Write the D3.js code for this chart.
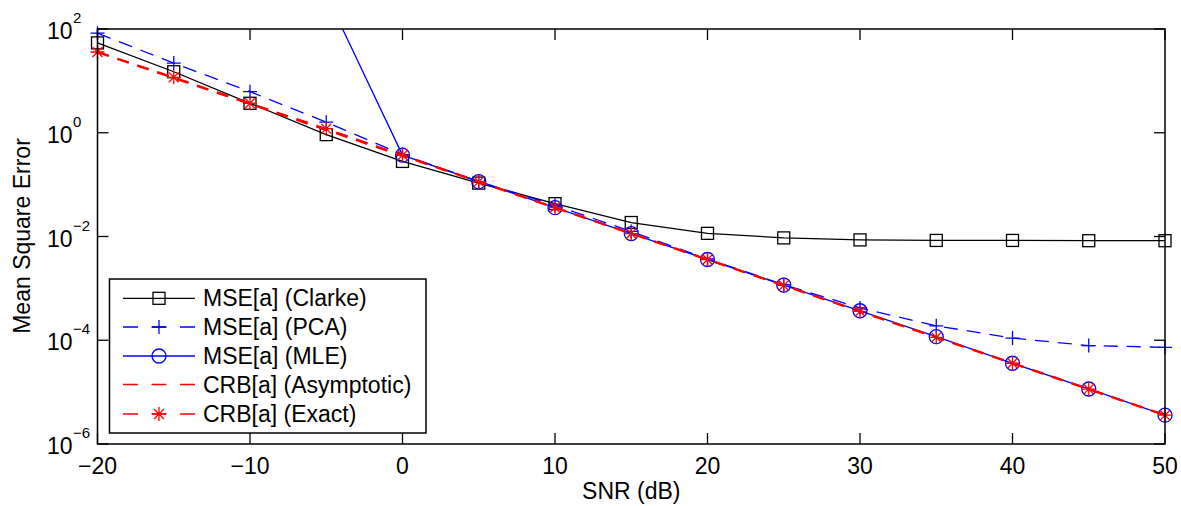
<!DOCTYPE html>
<html><head><meta charset="utf-8">
<script src="https://cdn.jsdelivr.net/npm/d3@7"></script>
<style>body{margin:0;background:#fff}svg{display:block}text{font-family:"Liberation Sans",Arial,Helvetica,sans-serif;fill:#000}</style>
</head><body><svg id="c" width="1181" height="506"></svg>
<script>
const snr = [-20,-15,-10,-5,0,5,10,15,20,25,30,35,40,45,50];
const mseClarke = [54,15,3.7,0.92,0.28,0.107,0.043,0.0186,0.0115,0.0094,0.0086,0.0084,0.0084,0.0083,0.0083];
const msePCA = [83,22,6.2,1.6,0.38,0.115,0.04,0.0125,0.0037,0.00118,0.00042,0.00019,0.00011,0.000079,0.000073];
const mseMLE = [5000,3000,1500,460,0.37,0.114,0.036,0.0114,0.0036,0.00116,0.00037,0.000117,0.000036,0.0000115,0.0000036];
const crbAsym = [36,11.4,3.6,1.14,0.36,0.114,0.036,0.0114,0.0036,0.00114,0.00036,0.000114,0.000036,0.0000114,0.0000036];
const crbExact = [36,11.7,3.7,1.2,0.37,0.114,0.036,0.0114,0.0036,0.00114,0.00036,0.000114,0.000036,0.0000114,0.0000036];
const xTicks = [-20,-10,0,10,20,30,40,50];
const yTickExp = [2,0,-2,-4,-6];
const legendLabels = ["MSE[a] (Clarke)","MSE[a] (PCA)","MSE[a] (MLE)","CRB[a] (Asymptotic)","CRB[a] (Exact)"];

const L=97.5,R=1165,T=29,B=444;
const svg=d3.select("#c");
const x=d3.scaleLinear().domain([-20,50]).range([L,R]);
const y=d3.scaleLog().domain([1e-6,1e2]).range([B,T]);

svg.append("defs").append("clipPath").attr("id","clip").append("rect")
  .attr("x",L).attr("y",T).attr("width",R-L).attr("height",B-T);

const series=[
 {v:mseClarke,color:"#000",dash:null,w:1.3,lw:1.3,marker:"square"},
 {v:msePCA,color:"#0000ff",dash:"14,9",w:1.3,lw:1.3,marker:"plus"},
 {v:mseMLE,color:"#0000ff",dash:null,w:1.3,lw:1.3,marker:"circle"},
 {v:crbAsym,color:"#ff0000",dash:"12,9",w:2.4,lw:1.5,marker:null},
 {v:crbExact,color:"#ff0000",dash:"12,9",w:1.6,lw:1.5,marker:"star"}
];

function drawMarker(g,type,cx,cy,color){
  if(type==="square"){
    g.append("rect").attr("x",cx-6).attr("y",cy-6).attr("width",12).attr("height",12)
     .attr("fill","none").attr("stroke",color).attr("stroke-width",1.3);
  } else if(type==="circle"){
    g.append("circle").attr("cx",cx).attr("cy",cy).attr("r",7)
     .attr("fill","none").attr("stroke",color).attr("stroke-width",1.3);
  } else if(type==="plus"){
    g.append("path").attr("d",`M${cx-7},${cy}H${cx+7}M${cx},${cy-7}V${cy+7}`)
     .attr("stroke",color).attr("stroke-width",1.3).attr("fill","none");
  } else if(type==="star"){
    let d="";
    for(let k=0;k<4;k++){const a=k*Math.PI/4;const dx=7*Math.cos(a),dy=7*Math.sin(a);
      d+=`M${cx-dx},${cy-dy}L${cx+dx},${cy+dy}`;}
    g.append("path").attr("d",d).attr("stroke",color).attr("stroke-width",1.3).attr("fill","none");
  }
}

// axes box with ticks
const ax=svg.append("g");
xTicks.forEach(t=>{
  const px=x(t);
  ax.append("line").attr("x1",px).attr("x2",px).attr("y1",B).attr("y2",B-11).attr("stroke","#000").attr("stroke-width",1.3);
  ax.append("line").attr("x1",px).attr("x2",px).attr("y1",T).attr("y2",T+11).attr("stroke","#000").attr("stroke-width",1.3);
  ax.append("text").attr("x",px).attr("y",473.5).attr("text-anchor","middle").attr("font-size",23)
    .text(t<0?"\u2212"+Math.abs(t):String(t));
});
yTickExp.forEach(e=>{
  const py=y(Math.pow(10,e));
  ax.append("line").attr("x1",L).attr("x2",L+11).attr("y1",py).attr("y2",py).attr("stroke","#000").attr("stroke-width",1.3);
  ax.append("line").attr("x1",R).attr("x2",R-11).attr("y1",py).attr("y2",py).attr("stroke","#000").attr("stroke-width",1.3);
  ax.append("text").attr("x",72.5).attr("y",py+10).attr("text-anchor","end").attr("font-size",23).text("10");
  ax.append("text").attr("x",73).attr("y",py-6).attr("text-anchor","start").attr("font-size",15)
    .text(e<0?"\u2212"+Math.abs(e):String(e));
});

// data
const line=d3.line().x((d,i)=>x(snr[i])).y(d=>y(d));
const dg=svg.append("g");
series.forEach(s=>{
  dg.append("path").datum(s.v).attr("clip-path","url(#clip)").attr("d",line)
    .attr("fill","none").attr("stroke",s.color).attr("stroke-width",s.w)
    .attr("stroke-dasharray",s.dash);
  if(s.marker){
    s.v.forEach((v,i)=>{ if(v<=1e2 && v>=1e-6) drawMarker(dg,s.marker,x(snr[i]),y(v),s.color); });
  }
});

svg.append("rect").attr("x",L).attr("y",T).attr("width",R-L).attr("height",B-T)
  .attr("fill","none").attr("stroke","#000").attr("stroke-width",1.5);

// labels
svg.append("text").attr("x",(L+R)/2).attr("y",499).attr("text-anchor","middle").attr("font-size",23).text("SNR (dB)");
svg.append("text").attr("transform","translate(29.5,236) rotate(-90)").attr("text-anchor","middle").attr("font-size",23).text("Mean Square Error");

// legend
const lg=svg.append("g");
lg.append("rect").attr("x",109.5).attr("y",279).attr("width",316.5).attr("height",154)
  .attr("fill","#fff").attr("stroke","#000").attr("stroke-width",1.5);
const rowsY=[298.3,327,356,384.5,414];
series.forEach((s,i)=>{
  const yy=rowsY[i];
  lg.append("line").attr("x1",123).attr("x2",195).attr("y1",yy).attr("y2",yy)
    .attr("stroke",s.color).attr("stroke-width",s.lw).attr("stroke-dasharray",s.dash?"15,13.5":null);
  if(s.marker) drawMarker(lg,s.marker,159,yy,s.color);
  lg.append("text").attr("x",203).attr("y",yy+8).attr("font-size",23).text(legendLabels[i]);
});
</script></body></html>
